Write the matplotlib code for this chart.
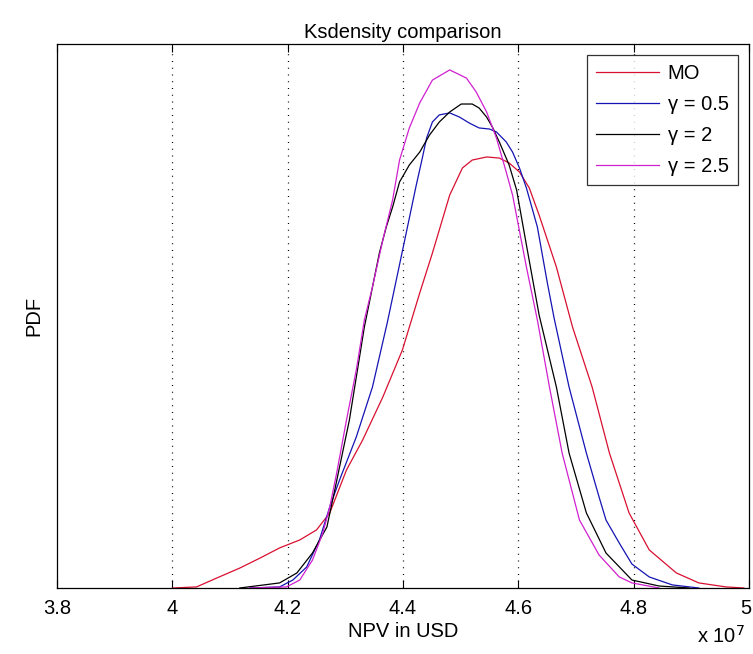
import matplotlib
matplotlib.use("Agg")
import matplotlib.pyplot as plt
import matplotlib.transforms as mtransforms

plt.rcParams['font.family'] = ['Liberation Sans', 'DejaVu Sans']

# NPV grid (units of 1e7 USD) and kernel density estimates (arbitrary PDF units)
npv_mo = [4.001, 4.042, 4.077, 4.117, 4.152, 4.186, 4.221, 4.250, 4.273, 4.302,
          4.330, 4.365, 4.399, 4.429, 4.451, 4.481, 4.503, 4.520, 4.545, 4.567,
          4.584, 4.602, 4.619, 4.636, 4.666, 4.694, 4.728, 4.758, 4.792, 4.827,
          4.874, 4.913, 4.960, 4.991]
pdf_mo = [0.000, 0.006, 0.055, 0.110, 0.165, 0.221, 0.265, 0.320, 0.414, 0.651,
          0.816, 1.053, 1.313, 1.627, 1.847, 2.167, 2.316, 2.360, 2.377, 2.371,
          2.344, 2.294, 2.206, 2.057, 1.770, 1.439, 1.108, 0.744, 0.414, 0.210,
          0.083, 0.028, 0.006, 0.000]

npv_g05 = [4.134, 4.186, 4.209, 4.233, 4.255, 4.273, 4.290, 4.319, 4.347, 4.373,
           4.403, 4.423, 4.432, 4.441, 4.451, 4.463, 4.481, 4.498, 4.515, 4.532,
           4.550, 4.562, 4.579, 4.590, 4.602, 4.614, 4.633, 4.650, 4.662, 4.688,
           4.718, 4.740, 4.752, 4.775, 4.797, 4.827, 4.867, 4.913]
pdf_g05 = [0.000, 0.006, 0.044, 0.116, 0.265, 0.447, 0.596, 0.833, 1.108, 1.467,
           1.919, 2.222, 2.349, 2.482, 2.570, 2.609, 2.620, 2.597, 2.564, 2.537,
           2.531, 2.515, 2.460, 2.404, 2.316, 2.206, 1.991, 1.688, 1.489, 1.108,
           0.744, 0.502, 0.375, 0.248, 0.132, 0.061, 0.017, 0.000]

npv_g2 = [4.117, 4.186, 4.216, 4.243, 4.268, 4.278, 4.307, 4.333, 4.345, 4.359,
          4.371, 4.382, 4.394, 4.411, 4.429, 4.446, 4.463, 4.481, 4.501, 4.520,
          4.532, 4.545, 4.555, 4.567, 4.584, 4.597, 4.614, 4.636, 4.666, 4.688,
          4.718, 4.752, 4.797, 4.844, 4.896]
pdf_g2 = [0.000, 0.028, 0.083, 0.193, 0.336, 0.485, 0.926, 1.439, 1.627, 1.847,
          1.991, 2.101, 2.239, 2.333, 2.404, 2.498, 2.570, 2.625, 2.669, 2.669,
          2.647, 2.597, 2.542, 2.460, 2.333, 2.195, 1.892, 1.506, 1.108, 0.744,
          0.414, 0.193, 0.044, 0.011, 0.000]

npv_g25 = [4.134, 4.198, 4.221, 4.243, 4.261, 4.273, 4.285, 4.302, 4.319, 4.333,
           4.347, 4.365, 4.382, 4.394, 4.411, 4.429, 4.451, 4.481, 4.510, 4.527,
           4.545, 4.562, 4.579, 4.590, 4.614, 4.633, 4.654, 4.676, 4.706, 4.740,
           4.775, 4.797, 4.844]
pdf_g25 = [0.000, 0.006, 0.044, 0.154, 0.303, 0.447, 0.634, 0.926, 1.202, 1.478,
           1.660, 1.919, 2.140, 2.360, 2.537, 2.675, 2.801, 2.857, 2.812, 2.735,
           2.625, 2.482, 2.294, 2.167, 1.770, 1.478, 1.108, 0.744, 0.375, 0.182,
           0.061, 0.028, 0.000]

labels = ['MO', 'γ = 0.5', 'γ = 2', 'γ = 2.5']
colors = ['#d81030', '#1414b4', '#000000', '#d020d0']
x_ticks = [3.8, 4.0, 4.2, 4.4, 4.6, 4.8, 5.0]
x_tick_labels = ['3.8', '4', '4.2', '4.4', '4.6', '4.8', '5']

fig = plt.figure(figsize=(7.53, 6.54), dpi=100)
ax = fig.add_axes([57 / 753, 66 / 654, 692 / 753, 544 / 654])

series = [(npv_mo, pdf_mo), (npv_g05, pdf_g05), (npv_g2, pdf_g2), (npv_g25, pdf_g25)]
for (xs, ys), lab, col in zip(series, labels, colors):
    ax.plot(xs, ys, color=col, lw=0.9, label=lab, solid_joinstyle='round')

ax.set_xlim(3.8, 5.0)
ax.set_ylim(0, 3.0)
ax.set_xticks(x_ticks)
ax.set_xticklabels(x_tick_labels)
ax.set_yticks([])
ax.tick_params(axis='x', direction='in', top=True, length=6, width=0.8,
               labelsize=14.5, pad=8)
for s in ax.spines.values():
    s.set_linewidth(0.9)

# keep the last tick label inside the canvas
last = ax.get_xticklabels()[-1]
last.set_transform(last.get_transform() +
                   mtransforms.ScaledTranslation(-3 / 100, 0, fig.dpi_scale_trans))

for xv in x_ticks[1:-1]:
    ax.axvline(xv, color='black', lw=0.9, ls=(0, (0.8, 4.6)), zorder=0)

ax.set_title('Ksdensity comparison', fontsize=14.5, pad=4.5)
ax.set_xlabel('NPV in USD', fontsize=14.5, labelpad=3)
ax.set_ylabel('PDF', fontsize=14.5, labelpad=10)
fig.text(721 / 753, 1 - 636 / 654, r'x 10$^{7}$', fontsize=14.5,
         ha='center', va='center')

leg = ax.legend(loc='upper right', fontsize=14.5, frameon=True, fancybox=False,
                edgecolor='black', handlelength=3.1, handletextpad=0.45,
                labelspacing=0.6, borderpad=0.45, borderaxespad=0.55)
leg.get_frame().set_linewidth(0.9)

fig.savefig('out.png', dpi=100)
